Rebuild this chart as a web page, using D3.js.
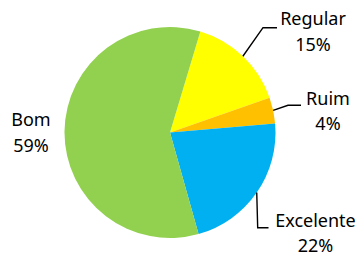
<!DOCTYPE html>
<html>
<head>
<meta charset="utf-8">
<script src="https://cdn.jsdelivr.net/npm/d3@7"></script>
<style>
  body { margin: 0; background: #fff; }
  svg text { font-family: "Noto Sans", sans-serif; font-size: 18px; fill: #000; }
</style>
</head>
<body>
<svg width="360" height="255"></svg>
<script>
// data
const categories = ['Regular', 'Ruim', 'Excelente', 'Bom'];
const values = [15, 4, 22, 59];
const colorList = ['#FFFF00', '#FFC000', '#00B0F0', '#92D050'];

// label layout (centre x, first baseline) and leader elbow points
const labelPos = {
  Regular: { x: 313, y: 25, elbow: [[263, 27.7], [277, 27.7]] },
  Ruim: { x: 328, y: 104.5, elbow: [[288, 105.3], [301, 105.3]] },
  Excelente: { x: 315.5, y: 226.5, elbow: [[257.7, 227.7], [268.5, 227.7]] },
  Bom: { x: 31, y: 126, elbow: null }
};

const svg = d3.select('svg');
const cx = 170, cy = 132.5, r = 105.5;
const offset = 16.7 * Math.PI / 180;

const data = categories.map((c, i) => ({ name: c, value: values[i], color: colorList[i] }));
const total = d3.sum(values);

const pie = d3.pie().sort(null).value(d => d.value)
  .startAngle(offset).endAngle(offset + 2 * Math.PI);
const arc = d3.arc().innerRadius(0).outerRadius(r);

const g = svg.append('g').attr('transform', `translate(${cx},${cy})`);
const arcs = pie(data);

g.selectAll('path')
  .data(arcs)
  .join('path')
  .attr('d', arc)
  .attr('fill', d => d.data.color);

// leader lines
arcs.forEach(d => {
  const p = labelPos[d.data.name];
  if (!p.elbow) return;
  const mid = (d.startAngle + d.endAngle) / 2;
  const start = [cx + r * Math.sin(mid), cy - r * Math.cos(mid)];
  const pts = [start].concat(p.elbow);
  svg.append('path')
    .attr('d', d3.line()(pts))
    .attr('fill', 'none')
    .attr('stroke', '#000')
    .attr('stroke-width', 1.4);
});

// labels
arcs.forEach(d => {
  const p = labelPos[d.data.name];
  const t = svg.append('text').attr('text-anchor', 'middle');
  t.append('tspan').attr('x', p.x).attr('y', p.y).text(d.data.name);
  t.append('tspan').attr('x', p.x).attr('y', p.y + 25.5)
    .text(Math.round(d.data.value / total * 100) + '%');
});
</script>
</body>
</html>
